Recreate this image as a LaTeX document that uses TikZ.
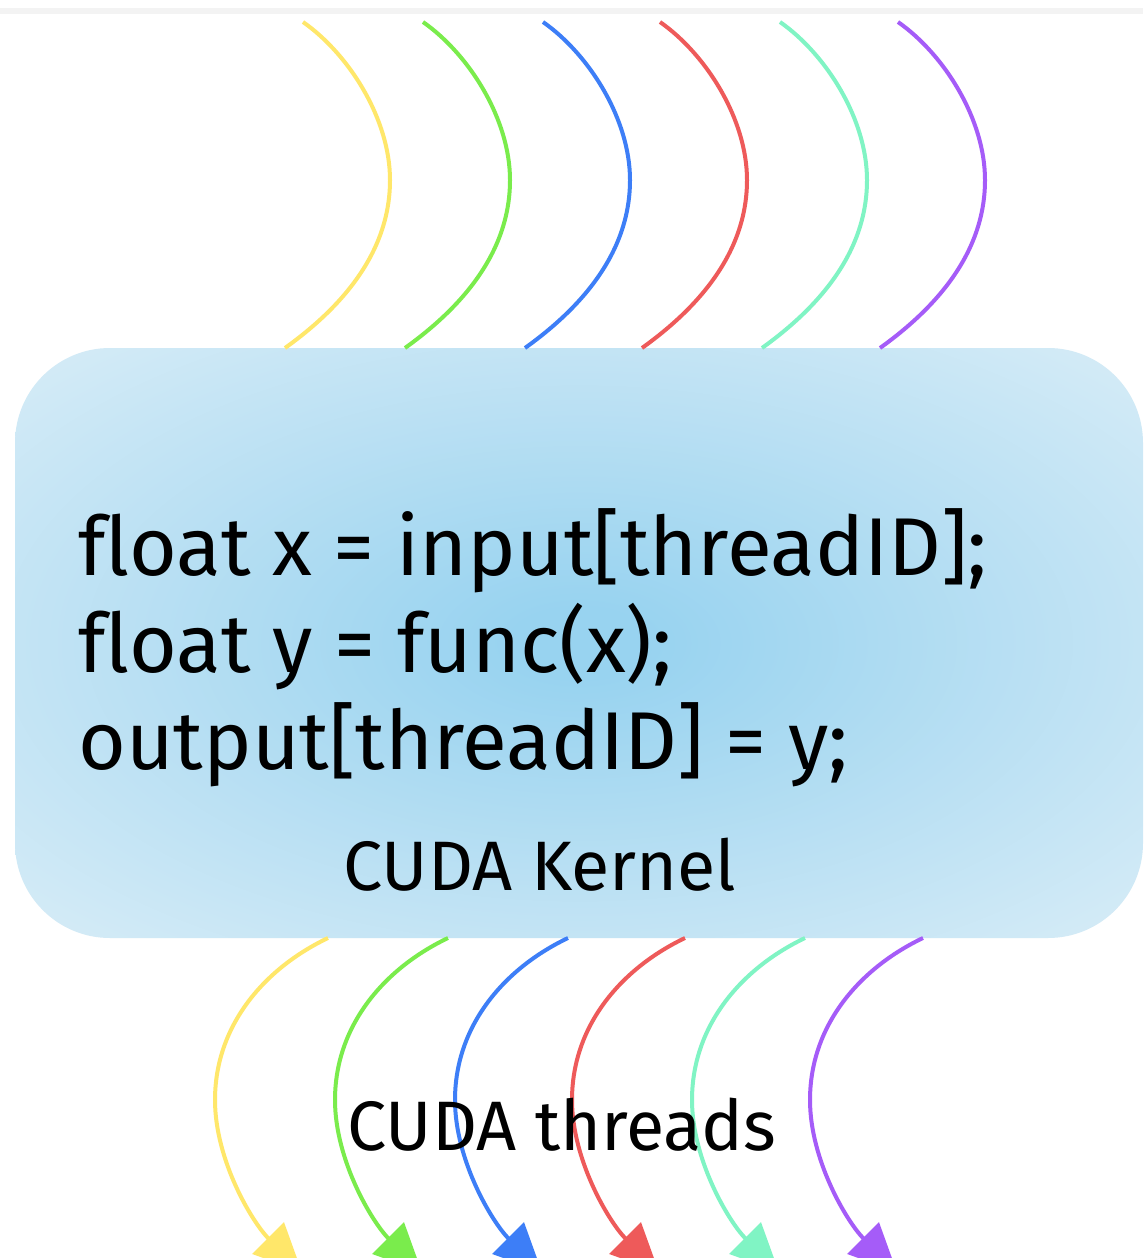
\documentclass[tikz,border=0pt]{standalone}
\usepackage{fontspec}
\setmainfont{Fira Sans}[Ligatures={NoCommon}]
\usetikzlibrary{arrows.meta}
\definecolor{cyel}{HTML}{FFE76A}
\definecolor{cgrn}{HTML}{7AEC4C}
\definecolor{cblu}{HTML}{3D7EF7}
\definecolor{cred}{HTML}{EE5A5A}
\definecolor{ctea}{HTML}{80F4C4}
\definecolor{cpur}{HTML}{A55CF8}
\definecolor{kin}{HTML}{98D3F0}
\definecolor{kmid}{HTML}{BAE0F3}
\definecolor{kout}{HTML}{D6ECF7}
\definecolor{kcorner}{HTML}{E4F2F9}
\definecolor{topgray}{HTML}{F3F3F3}
\pgfdeclareradialshading{kernelshade}{\pgfpoint{0bp}{0bp}}{color(0bp)=(kin); color(3bp)=(kin); color(20bp)=(kmid); color(35bp)=(kout); color(50bp)=(kcorner)}
\begin{document}
\begin{tikzpicture}[x=1pt,y=-1pt,
  thread/.style={line width=4pt},
  tipped/.style={thread,-{Triangle[length=48pt,width=44pt]}},
  codetext/.style={anchor=base west,inner sep=0pt,font=\fontsize{82}{96}\selectfont},
  labeltext/.style={anchor=base west,inner sep=0pt,font=\fontsize{70}{84}\selectfont}]
\useasboundingbox (0,0) rectangle (1143,1258);
\fill[white] (0,0) rectangle (1143,1258);
\fill[topgray] (0,8) rectangle (1143,14);
\node[shading=kernelshade,rounded corners=95pt,minimum width=1128pt,minimum height=590pt,inner sep=0pt] (kernel) at (579,643) {};
\node[codetext] (l1) at (78,575) {float x = input[threadID];};
\node[codetext] (l2) at (78,672) {float y = func(x);};
\node[codetext] (l3) at (78,769) {output[threadID] = y;};
\node[labeltext] (klabel) at (343,890) {CUDA Kernel};
\foreach \i/\dx/\c in {0/0/cyel,1/120/cgrn,2/240/cblu,3/357/cred,4/477/ctea,5/595/cpur}{
  \coordinate (ts\i) at (303+\dx,22);
  \coordinate (tm\i) at (390+\dx,180);
  \coordinate (te\i) at (285+\dx,348);
  \coordinate (bs\i) at (328+\dx,938);
  \coordinate (bm\i) at (215+\dx,1100);
  \coordinate (be\i) at (302+\dx,1272);
  \draw[thread,\c] (ts\i) .. controls +(47,33) and +(0,-60) .. (tm\i) .. controls +(0,70) and +(60,-43) .. (te\i);
  \draw[tipped,\c] (bs\i) .. controls +(-63,30) and +(0,-75) .. (bm\i) .. controls +(0,60) and +(-50,-50) .. (be\i);
}
\node[labeltext] (tlabel) at (347,1150) {CUDA threads};
\end{tikzpicture}
\end{document}
